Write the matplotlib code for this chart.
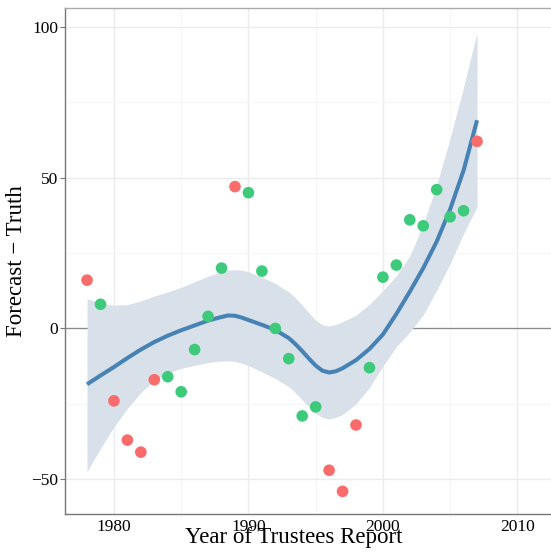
import numpy as np
import matplotlib
matplotlib.use("Agg")
import matplotlib.pyplot as plt

# ---- data ----------------------------------------------------------------
years = list(range(1978, 2008))
error = [16, 8, -24, -37, -41, -17, -16, -21, -7, 4,
         20, 47, 45, 19, 0, -10, -29, -26, -47, -54,
         -32, -13, 17, 21, 36, 34, 46, 37, 39, 62]
group = ["r", "g", "r", "r", "r", "r", "g", "g", "g", "g",
         "g", "r", "g", "g", "g", "g", "g", "g", "r", "r",
         "r", "g", "g", "g", "g", "g", "g", "g", "g", "r"]

# smoother + confidence band, read at these years
fit_years = [1978, 1979, 1980, 1981, 1982, 1983, 1984, 1985, 1986, 1987,
             1988, 1988.5, 1989, 1989.5, 1990, 1991, 1992, 1993, 1993.5, 1994,
             1994.5, 1995, 1995.5, 1996, 1996.5, 1997, 1998, 1999, 2000, 2001,
             2002, 2003, 2004, 2005, 2006, 2007]
fit = [-18.5, -15.6, -12.8, -9.8, -7.0, -4.5, -2.4, -0.6, 1.0, 2.6,
       3.8, 4.3, 4.2, 3.6, 2.8, 1.2, -0.5, -3.2, -5.2, -7.5,
       -10.0, -12.3, -14.0, -14.6, -14.2, -13.2, -10.5, -6.8, -2.0, 4.8,
       12.2, 20.0, 28.8, 39.5, 52.4, 69.0]
upper = [9.9, 8.3, 7.7, 7.9, 9.1, 10.7, 12.1, 13.6, 15.5, 17.3,
         18.9, 19.3, 19.5, 19.3, 18.8, 17.0, 14.9, 12.1, 10.1, 7.7,
         5.1, 2.7, 1.2, 0.8, 1.3, 2.2, 4.4, 8.0, 12.5, 17.5,
         24.0, 34.5, 47.5, 63.0, 80.0, 98.0]
lower = [-47.5, -39.7, -32.6, -26.5, -21.2, -17.3, -14.8, -13.2, -12.2, -11.3,
         -10.8, -10.7, -11.0, -11.5, -12.3, -14.4, -16.6, -19.3, -21.3, -23.7,
         -26.0, -28.1, -29.5, -30.0, -29.5, -28.5, -25.0, -19.5, -12.5, -6.0,
         -1.2, 4.5, 12.7, 21.5, 31.5, 40.3]

xticks = [1980, 1990, 2000, 2010]
yticks = [-50, 0, 50, 100]
COLOR = {"r": "#FA6B6B", "g": "#3DCB7B"}

plt.rcParams["font.family"] = ["Liberation Serif", "DejaVu Serif"]

W, H = 551, 558
fig = plt.figure(figsize=(W / 100, H / 100), dpi=100)
ax = fig.add_axes([65 / W, 44 / H, (W - 65) / W, (514 - 8) / H])

# grid
ax.set_xticks(xticks)
ax.set_yticks(yticks)
ax.set_xticks([1985, 1995, 2005], minor=True)
ax.set_yticks([-25, 25, 75], minor=True)
ax.grid(True, which="major", color="#EBEBEB", lw=1.0)
ax.grid(True, which="minor", color="#F6F6F6", lw=0.8)
ax.set_axisbelow(True)

ax.axhline(0, color="#8A8A8A", lw=0.9, zorder=1)

ax.fill_between(fit_years, lower, upper, color="#D8E0E9", lw=0, zorder=2)
ax.plot(fit_years, fit, color="#4682B4", lw=2.9, solid_capstyle="butt",
        solid_joinstyle="round", zorder=3)
ax.scatter(years, error, s=70, c=[COLOR[g] for g in group], lw=0, zorder=4)

ax.set_xlim(1976.36, 2012.5)
ax.set_ylim(-61.5, 106.2)

for s in ["left", "bottom"]:
    ax.spines[s].set_color("#777777")
    ax.spines[s].set_linewidth(1.0)
ax.spines["top"].set_color("#AAAAAA")
ax.spines["top"].set_linewidth(1.0)
ax.spines["right"].set_visible(False)

ax.tick_params(axis="y", which="major", length=3.5, width=0.8, color="#777777",
               pad=1.5, labelsize=12.5, labelcolor="black")
ax.tick_params(axis="x", which="major", length=0, pad=3.5, labelsize=12.5,
               labelcolor="black")
ax.tick_params(which="minor", length=0)
ax.set_yticklabels(["\u221250", "0", "50", "100"])

fig.text(294 / W, (H - 543.5) / H, "Year of Trustees Report", ha="center",
         va="baseline", fontsize=16.5)
fig.text(16.5 / W, (H - 261.5) / H, "Forecast \u2212 Truth", ha="center",
         va="center", rotation=90, fontsize=16.5)

fig.savefig("out.png", dpi=100)
